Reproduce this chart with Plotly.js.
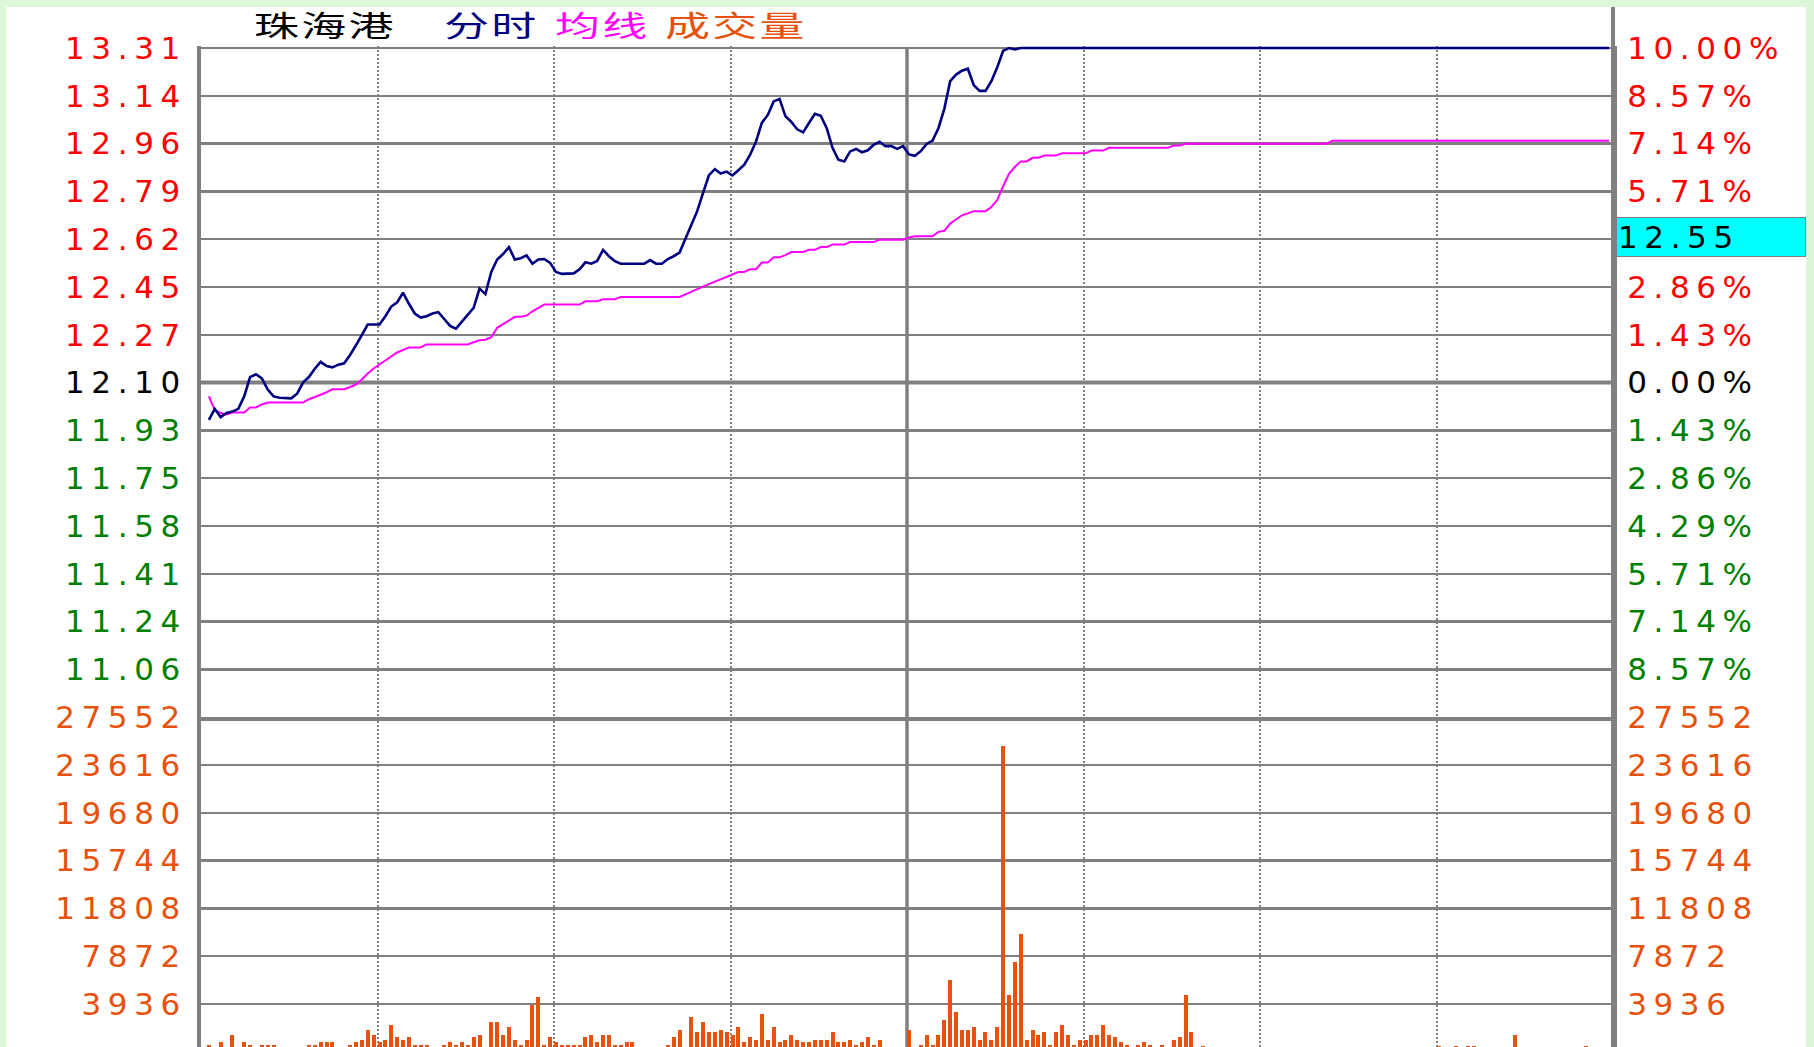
<!DOCTYPE html>
<html>
<head>
<meta charset="utf-8">
<script src="https://cdn.plot.ly/plotly-3.0.1.min.js"></script>
<style>
html,body{margin:0;padding:0;width:1814px;height:1047px;overflow:hidden;background:#ffffff;}
#chart{position:absolute;left:0;top:0;width:1814px;height:1047px;}
#chart .ytick text, #chart .y2tick text, #chart .y3tick text, #chart .y4tick text{letter-spacing:6.6px;}
#chart .annotation[data-index="4"] text{letter-spacing:6.6px;}
#chart .annotation[data-index="0"] text,
#chart .annotation[data-index="1"] text,
#chart .annotation[data-index="2"] text,
#chart .annotation[data-index="3"] text{
  letter-spacing:1.5px; transform-box:fill-box; transform-origin:0 50%; transform:scaleX(1.55);
}
</style>
</head>
<body>
<div id="chart"></div>
<script>
// ---------------- data ----------------
const stockName = '珠海港';
const legendLabels = ['分时', '均线', '成交量'];
const prevClose = 12.10;
const cursorPrice = '12.55';
const priceLabels = ['13.31','13.14','12.96','12.79','12.62','12.45','12.27','12.10','11.93','11.75','11.58','11.41','11.24','11.06'];
const pctLabels = ['10.00%','8.57%','7.14%','5.71%','4.29%','2.86%','1.43%','0.00%','1.43%','2.86%','4.29%','5.71%','7.14%','8.57%'];
const volLabels = ['27552','23616','19680','15744','11808','7872','3936'];

// minute price (分时), one value per trading minute (240)
const price = [
 null, 11.965, 12.005, 11.975, 11.99, 11.995, 12.005, 12.05, 12.12, 12.13,
 12.115, 12.075, 12.05, 12.045, 12.043, 12.043, 12.06, 12.10, 12.12, 12.15,
 12.175, 12.16, 12.155, 12.165, 12.17, 12.20, 12.235, 12.27, 12.31, 12.31,
 12.31, 12.34, 12.375, 12.39, 12.425, 12.385, 12.35, 12.335, 12.34, 12.35,
 12.355, 12.33, 12.305, 12.295, 12.32, 12.345, 12.37, 12.44, 12.42, 12.50,
 12.545, 12.565, 12.59, 12.545, 12.55, 12.56, 12.53, 12.545, 12.547, 12.533,
 12.50, 12.493, 12.493, 12.495, 12.51, 12.535, 12.53, 12.54, 12.58, 12.557,
 12.539, 12.53, 12.53, 12.53, 12.53, 12.53, 12.543, 12.53, 12.53, 12.547,
 12.557, 12.57, 12.62, 12.67, 12.72, 12.786, 12.85, 12.872, 12.856, 12.863,
 12.849, 12.868, 12.888, 12.924, 12.972, 13.04, 13.068, 13.117, 13.126, 13.063,
 13.043, 13.016, 13.005, 13.039, 13.072, 13.065, 13.021, 12.949, 12.906, 12.90,
 12.936, 12.945, 12.933, 12.94, 12.96, 12.971, 12.955, 12.955, 12.945, 12.955,
 12.925, 12.92, 12.937, 12.963, 12.975, 13.02, 13.09, 13.19, 13.214, 13.228,
 13.235, 13.176, 13.155, 13.155, 13.19, 13.24, 13.30, 13.31, 13.305, 13.31,
 13.31, 13.31, 13.31, 13.31, 13.31, 13.31, 13.31, 13.31, 13.31, 13.31,
 13.31, 13.31, 13.31, 13.31, 13.31, 13.31, 13.31, 13.31, 13.31, 13.31,
 13.31, 13.31, 13.31, 13.31, 13.31, 13.31, 13.31, 13.31, 13.31, 13.31,
 13.31, 13.31, 13.31, 13.31, 13.31, 13.31, 13.31, 13.31, 13.31, 13.31,
 13.31, 13.31, 13.31, 13.31, 13.31, 13.31, 13.31, 13.31, 13.31, 13.31,
 13.31, 13.31, 13.31, 13.31, 13.31, 13.31, 13.31, 13.31, 13.31, 13.31,
 13.31, 13.31, 13.31, 13.31, 13.31, 13.31, 13.31, 13.31, 13.31, 13.31,
 13.31, 13.31, 13.31, 13.31, 13.31, 13.31, 13.31, 13.31, 13.31, 13.31,
 13.31, 13.31, 13.31, 13.31, 13.31, 13.31, 13.31, 13.31, 13.31, 13.31,
 13.31, 13.31, 13.31, 13.31, 13.31, 13.31, 13.31, 13.31, 13.31, 13.31
];

// average price (均线)
const avgPrice = [
 null, 12.05, 12.0, 11.99, 11.985, 11.992, 11.992, 11.992, 12.01, 12.01,
 12.021, 12.028, 12.028, 12.028, 12.028, 12.028, 12.028, 12.028, 12.04, 12.047,
 12.056, 12.065, 12.076, 12.076, 12.076, 12.084, 12.093, 12.111, 12.133, 12.151,
 12.166, 12.18, 12.196, 12.209, 12.218, 12.227, 12.227, 12.227, 12.238, 12.238,
 12.238, 12.238, 12.238, 12.238, 12.238, 12.238, 12.246, 12.253, 12.255, 12.264,
 12.298, 12.312, 12.324, 12.338, 12.338, 12.342, 12.358, 12.371, 12.382, 12.382,
 12.382, 12.382, 12.382, 12.382, 12.382, 12.394, 12.394, 12.394, 12.401, 12.401,
 12.401, 12.41, 12.41, 12.41, 12.41, 12.41, 12.41, 12.41, 12.41, 12.41,
 12.41, 12.41, 12.419, 12.429, 12.438, 12.447, 12.456, 12.465, 12.474, 12.482,
 12.492, 12.50, 12.50, 12.51, 12.51, 12.534, 12.534, 12.553, 12.553, 12.561,
 12.572, 12.572, 12.572, 12.58, 12.58, 12.59, 12.59, 12.599, 12.599, 12.599,
 12.608, 12.608, 12.608, 12.608, 12.608, 12.617, 12.617, 12.617, 12.617, 12.617,
 12.625, 12.629, 12.629, 12.629, 12.629, 12.645, 12.649, 12.675, 12.69, 12.705,
 12.712, 12.72, 12.72, 12.72, 12.735, 12.76, 12.81, 12.855, 12.88, 12.90,
 12.90, 12.913, 12.913, 12.921, 12.921, 12.921, 12.929, 12.929, 12.929, 12.929,
 12.929, 12.939, 12.939, 12.939, 12.949, 12.949, 12.949, 12.949, 12.949, 12.949,
 12.949, 12.949, 12.949, 12.949, 12.949, 12.957, 12.957, 12.964, 12.964, 12.964,
 12.964, 12.964, 12.964, 12.964, 12.964, 12.964, 12.964, 12.964, 12.964, 12.964,
 12.964, 12.964, 12.964, 12.964, 12.964, 12.964, 12.964, 12.964, 12.964, 12.964,
 12.964, 12.964, 12.975, 12.975, 12.975, 12.975, 12.975, 12.975, 12.975, 12.975,
 12.975, 12.975, 12.975, 12.975, 12.975, 12.975, 12.975, 12.975, 12.975, 12.975,
 12.975, 12.975, 12.975, 12.975, 12.975, 12.975, 12.975, 12.975, 12.975, 12.975,
 12.975, 12.975, 12.975, 12.975, 12.975, 12.975, 12.975, 12.975, 12.975, 12.975,
 12.975, 12.975, 12.975, 12.975, 12.975, 12.975, 12.975, 12.975, 12.975, 12.975
];

// minute volume (成交量)
const volume = [
 0, 543, 0, 790, 0, 1367, 0, 790, 543, 0,
 543, 543, 543, 0, 0, 0, 0, 0, 543, 543,
 790, 790, 790, 0, 0, 543, 790, 955, 1779, 1367,
 790, 955, 2190, 1202, 955, 1202, 543, 543, 543, 0,
 0, 543, 790, 543, 790, 543, 1202, 1367, 0, 2437,
 2437, 1367, 2026, 955, 543, 955, 3837, 4496, 543, 1202,
 790, 543, 543, 543, 543, 1202, 1367, 790, 1367, 1367,
 543, 543, 790, 790, 0, 0, 0, 0, 0, 543,
 1202, 1779, 0, 2849, 1616, 2437, 1616, 1616, 1779, 1616,
 1367, 2026, 790, 1202, 955, 3096, 955, 2026, 790, 955,
 1367, 955, 790, 790, 955, 955, 955, 1616, 790, 790,
 955, 543, 790, 1202, 543, 955, 0, 0, 0, 0,
 1779, 0, 543, 1367, 543, 1367, 2602, 5896, 3261, 1779,
 1779, 2026, 955, 1616, 955, 2026, 25163, 4660, 7378, 9683,
 955, 1779, 1367, 1616, 543, 1616, 2190, 1367, 543, 955,
 955, 1367, 1367, 2190, 1367, 1202, 790, 543, 0, 543,
 790, 543, 0, 543, 0, 955, 1202, 4660, 1616, 0,
 500, 0, 0, 0, 0, 0, 0, 0, 0, 0,
 0, 0, 0, 0, 0, 0, 0, 0, 0, 0,
 0, 0, 0, 0, 0, 0, 0, 0, 0, 0,
 0, 0, 0, 0, 0, 0, 0, 0, 0, 0,
 500, 0, 0, 500, 0, 500, 500, 0, 0, 0,
 0, 0, 0, 1367, 0, 0, 0, 0, 0, 0,
 0, 0, 0, 0, 0, 500, 0, 0, 0, 0
];

// ---------------- styling / geometry ----------------
const RED = '#ff0000', GREEN = '#008000', BLACK = '#000000', NAVY = '#000080',
      MAGENTA = '#ff00ff', ORANGE = '#e8510c', GRID = '#808080', CYAN = '#00ffff',
      FRAME = '#dbf7d7';
const FONT = 'DejaVu Sans, Liberation Sans, sans-serif';
const CJK = 'Noto Sans CJK SC, sans-serif';

const pageW = 1814, pageH = 1047;
const frameL = 6, frameT = 7, frameR = 1806;
const plotL = 201, plotR = 1613, plotTop = 46, plotBottom = 1047;
const gridTop = 48, rowPx = 47.8;

const priceStep = prevClose * 0.1 / 7;
const pricePerPx = priceStep / rowPx;
const priceTop = prevClose + 7 * priceStep + (gridTop - plotTop) * pricePerPx;
const priceBot = prevClose - 7 * priceStep;
const dividerY = gridTop + 14 * rowPx;
const split = (plotBottom - dividerY) / (plotBottom - plotTop);
const volTicks = volLabels.map(Number);
const volStep = volTicks[volTicks.length - 1];
const volTop = volTicks[0];
const volBot = volTop - (plotBottom - dividerY) * volStep / rowPx;

const px2paperX = p => (p - plotL) / (plotR - plotL);
const px2paperY = p => (plotBottom - p) / (plotBottom - plotTop);

const priceTickVals = priceLabels.map((_, k) => prevClose * (1 + (7 - k) * 0.1 / 7));
const tickColor = k => (k < 7 ? RED : (k === 7 ? BLACK : GREEN));
const priceTickText = priceLabels.map((t, k) => `<span style="color:${tickColor(k)}">${t}</span>`);
const pctTickText = pctLabels.map((t, k) => k === 4 ? '' : `<span style="color:${tickColor(k)}">${t}</span>`);

const xs = price.map((_, i) => i + 0.34);

const traces = [
  {type: 'scatter', mode: 'lines', x: xs, y: avgPrice, xaxis: 'x', yaxis: 'y',
   line: {color: MAGENTA, width: 2}, connectgaps: false, hoverinfo: 'skip'},
  {type: 'scatter', mode: 'lines', x: xs, y: price, xaxis: 'x', yaxis: 'y',
   line: {color: NAVY, width: 2.6}, connectgaps: false, hoverinfo: 'skip'},
  {type: 'bar', x: xs, y: volume, xaxis: 'x2', yaxis: 'y3', width: 0.68,
   marker: {color: ORANGE, line: {width: 0}}, hoverinfo: 'skip'},
  // carriers for the right-hand (percentage / volume) axes
  {type: 'scatter', mode: 'lines', x: xs, y: price, xaxis: 'x', yaxis: 'y2',
   line: {width: 0, color: 'rgba(0,0,0,0)'}, opacity: 0, hoverinfo: 'skip'},
  {type: 'scatter', mode: 'lines', x: xs, y: volume, xaxis: 'x2', yaxis: 'y4',
   line: {width: 0, color: 'rgba(0,0,0,0)'}, opacity: 0, hoverinfo: 'skip'}
];

const xCommon = {
  range: [0, 240], tickvals: [30, 60, 90, 150, 180, 210], showticklabels: false,
  ticks: '', showgrid: true, gridcolor: GRID, gridwidth: 2, griddash: '2px,2px',
  zeroline: false, fixedrange: true
};
const yCommon = {
  ticks: '', zeroline: false, showline: true, linecolor: GRID, linewidth: 4,
  fixedrange: true, tickfont: {family: FONT, size: 31}
};

const frameRect = (x0, x1, y0, y1) => ({type: 'rect', xref: 'paper', yref: 'paper',
  x0: px2paperX(x0), x1: px2paperX(x1), y0: px2paperY(y1), y1: px2paperY(y0),
  fillcolor: FRAME, line: {width: 0}, layer: 'below'});

const layout = {
  width: pageW, height: pageH,
  margin: {l: plotL, r: pageW - plotR, t: plotTop, b: pageH - plotBottom, pad: 0},
  paper_bgcolor: '#ffffff', plot_bgcolor: '#ffffff',
  showlegend: false, bargap: 0,
  xaxis: Object.assign({}, xCommon, {anchor: 'y', domain: [0, 1],
    showline: true, linecolor: GRID, linewidth: 4}),
  xaxis2: Object.assign({}, xCommon, {anchor: 'y3', domain: [0, 1], matches: 'x', showline: false}),
  yaxis: Object.assign({}, yCommon, {domain: [split, 1], range: [priceBot, priceTop],
    tickmode: 'array', tickvals: priceTickVals, ticktext: priceTickText, side: 'left',
    showgrid: true, gridcolor: GRID, gridwidth: 2.5, ticklabelstandoff: 4}),
  yaxis2: Object.assign({}, yCommon, {overlaying: 'y', anchor: 'x', side: 'right', range: [priceBot, priceTop],
    tickmode: 'array', tickvals: priceTickVals, ticktext: pctTickText, showgrid: false,
    ticklabelstandoff: 4}),
  yaxis3: Object.assign({}, yCommon, {domain: [0, split], range: [volBot, volTop], anchor: 'x2',
    tickmode: 'array', tickvals: volTicks, ticktext: volLabels, side: 'left',
    showgrid: true, gridcolor: GRID, gridwidth: 2.5, ticklabelstandoff: 4,
    tickfont: {family: FONT, size: 31, color: ORANGE}}),
  yaxis4: Object.assign({}, yCommon, {overlaying: 'y3', side: 'right', anchor: 'x2', range: [volBot, volTop],
    tickmode: 'array', tickvals: volTicks, ticktext: volLabels, showgrid: false,
    ticklabelstandoff: 4, tickfont: {family: FONT, size: 31, color: ORANGE}}),
  shapes: [
    frameRect(0, pageW, 0, frameT),
    frameRect(0, frameL, 0, pageH),
    frameRect(frameR, pageW, 0, pageH),
    {type: 'line', xref: 'paper', yref: 'y', x0: 0, x1: 1, y0: prevClose, y1: prevClose,
     line: {color: GRID, width: 4}, layer: 'below'},
    {type: 'line', xref: 'x', yref: 'paper', x0: 120, x1: 120, y0: 0, y1: px2paperY(gridTop),
     line: {color: GRID, width: 3.5}, layer: 'below'},
    {type: 'line', xref: 'paper', yref: 'paper', x0: 1, x1: 1, y0: 0, y1: px2paperY(frameT),
     line: {color: GRID, width: 4}, layer: 'below'}
  ],
  annotations: [
    {text: stockName, font: {family: CJK, size: 29, color: BLACK}, width: 160},
    {text: legendLabels[0], font: {family: CJK, size: 29, color: NAVY}, width: 105},
    {text: legendLabels[1], font: {family: CJK, size: 29, color: MAGENTA}, width: 105},
    {text: legendLabels[2], font: {family: CJK, size: 29, color: ORANGE}, width: 160}
  ].map((a, k) => Object.assign(a, {
    xref: 'paper', yref: 'paper', x: px2paperX([252, 442, 553, 663][k]), y: px2paperY(23.5),
    xanchor: 'left', yanchor: 'middle', align: 'left', showarrow: false
  })).concat([
    {text: cursorPrice, xref: 'paper', yref: 'y', x: 1, xshift: 3,
     y: priceTickVals[4], yshift: 2, xanchor: 'left', yanchor: 'middle',
     align: 'left', showarrow: false, bgcolor: CYAN, bordercolor: GRID, borderwidth: 1,
     borderpad: 1, width: 186, height: 36, font: {family: FONT, size: 31, color: BLACK}}
  ])
};

Plotly.newPlot('chart', traces, layout, {staticPlot: true, displayModeBar: false});
</script>
</body>
</html>
